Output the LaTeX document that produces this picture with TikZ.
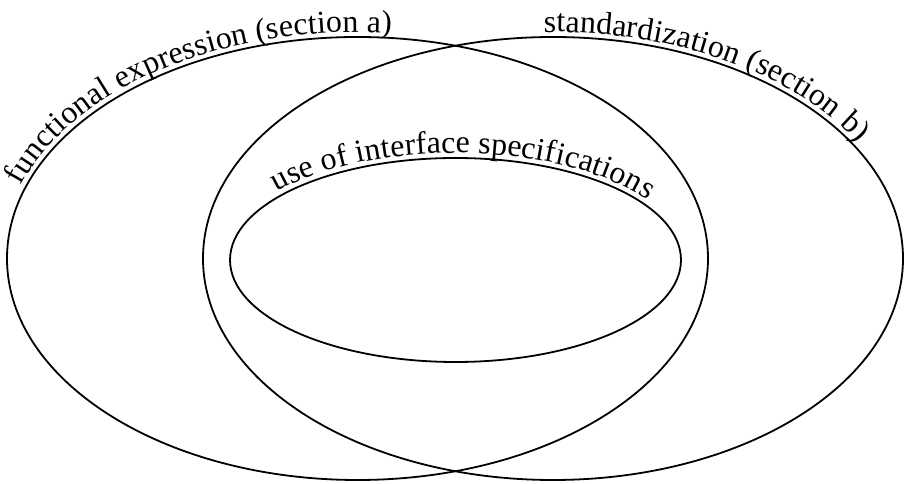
\documentclass[tikz,border=0pt]{standalone}
\usepackage{fontspec}
\setmainfont{Liberation Serif}
\usetikzlibrary{decorations.text}
\newcommand{\lblfont}{\fontsize{31.9}{37}\selectfont}

\begin{document}
\begin{tikzpicture}[x=1pt,y=1pt,line width=1.8pt,
  lbl/.style={decorate,decoration={text along path,raise=5pt,
    text={|\lblfont|#1}}}]
\useasboundingbox (0,0) rectangle (906,484);
% sets
\draw (357.5,225.5) ellipse [x radius=350.5,y radius=221.5];
\draw (553,225.5) ellipse [x radius=350,y radius=221.5];
\draw (455.5,224) ellipse [x radius=225.5,y radius=102];
% labels along the outlines
\path[lbl={functional expression (section a)}]
  ([shift={(161.5:350.5 and 221.5)}]357.5,225.5)
  arc[start angle=161.5,end angle=60,x radius=350.5,y radius=221.5];
\path[lbl={standardization (section b)}]
  ([shift={(91.5:350 and 221.5)}]553,225.5)
  arc[start angle=91.5,end angle=0,x radius=350,y radius=221.5];
\path[lbl={use of interface specifications}]
  ([shift={(141.5:225.5 and 102)}]455.5,224)
  arc[start angle=141.5,end angle=0,x radius=225.5,y radius=102];
\end{tikzpicture}
\end{document}
